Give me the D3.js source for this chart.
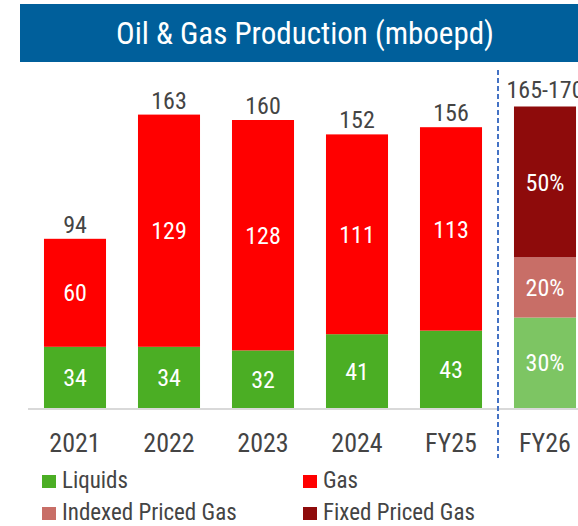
<!DOCTYPE html>
<html>
<head>
<meta charset="utf-8">
<script src="https://cdn.jsdelivr.net/npm/d3@7"></script>
<style>
  html, body { margin: 0; padding: 0; background: #fff; }
  svg { display: block; }
  text { font-family: "Liberation Sans Narrow", "Roboto Condensed", "DejaVu Sans Condensed", sans-serif; }
</style>
</head>
<body>
<svg id="chart" width="578" height="526"></svg>
<script>
// ---- data ----
const title = "Oil & Gas Production (mboepd)";
const categories = ["2021", "2022", "2023", "2024", "FY25", "FY26"];
const historicCats = ["2021", "2022", "2023", "2024", "FY25"];
const liquids = [34, 34, 32, 41, 43];
const gas = [60, 129, 128, 111, 113];
const totals = [94, 163, 160, 152, 156];
const fy26Range = [165, 170];
const fy26Labels = ["Liquids", "Indexed Priced Gas", "Fixed Priced Gas"];
const fy26Shares = [30, 20, 50];
const legendLabels = ["Liquids", "Gas", "Indexed Priced Gas", "Fixed Priced Gas"];

// ---- styling ----
const colors = {
  "Liquids": "#4bae24",
  "Gas": "#ff0000",
  "Indexed Priced Gas": "#c86e67",
  "Fixed Priced Gas": "#8e0b0b"
};
const fy26Colors = {
  "Liquids": "#7dc563",
  "Indexed Priced Gas": "#c86e67",
  "Fixed Priced Gas": "#8e0b0b"
};
const textGray = "#444444";

const svg = d3.select("#chart");

// title bar
svg.append("rect").attr("x", 20).attr("y", 4).attr("width", 558).attr("height", 58).attr("fill", "#005f9b");
svg.append("text").attr("x", 305).attr("y", 44).attr("text-anchor", "middle")
  .attr("fill", "#fff").attr("font-size", 31).text(title);

// scales
const x = d3.scaleBand().domain(categories).range([28, 592]).paddingInner(0.34).paddingOuter(0.17);
const y = d3.scaleLinear().domain([0, 170]).range([408, 102]);

// baseline axis
const axisG = svg.append("g").attr("transform", "translate(0,409)")
  .call(d3.axisBottom(x).tickSize(0).tickPadding(25));
axisG.select(".domain").attr("stroke", "#d9d9d9").attr("stroke-width", 2).attr("d", "M28,0H578");
axisG.selectAll("text").attr("font-size", 26).attr("fill", textGray)
  .attr("font-family", "'Liberation Sans Narrow', 'Roboto Condensed', 'DejaVu Sans Condensed', sans-serif");

// historic stacked bars
const hist = historicCats.map((c, i) => ({ cat: c, Liquids: liquids[i], Gas: gas[i], total: totals[i] }));
const stack = d3.stack().keys(["Liquids", "Gas"])(hist);
stack.forEach(layer => {
  const g = svg.append("g");
  g.selectAll("rect").data(layer).join("rect")
    .attr("x", d => x(d.data.cat))
    .attr("width", x.bandwidth())
    .attr("y", d => y(d[1]))
    .attr("height", d => y(d[0]) - y(d[1]))
    .attr("fill", colors[layer.key]);
  g.selectAll("text").data(layer).join("text")
    .attr("x", d => x(d.data.cat) + x.bandwidth() / 2)
    .attr("y", d => (y(d[0]) + y(d[1])) / 2)
    .attr("dy", "0.36em")
    .attr("text-anchor", "middle")
    .attr("fill", "#fff").attr("font-size", 24)
    .text(d => d.data[layer.key]);
});
svg.append("g").selectAll("text").data(hist).join("text")
  .attr("x", d => x(d.cat) + x.bandwidth() / 2)
  .attr("y", d => y(d.total) - 6)
  .attr("text-anchor", "middle").attr("fill", textGray).attr("font-size", 24)
  .text(d => d.total);

// FY26 guidance bar (shares of midpoint of range)
const fyMid = (fy26Range[0] + fy26Range[1]) / 2;
let acc = 0;
const fySegs = fy26Labels.map((k, i) => {
  const v0 = acc, v1 = acc + fyMid * fy26Shares[i] / 100;
  acc = v1;
  return { key: k, share: fy26Shares[i], v0, v1 };
});
const fg = svg.append("g");
fg.selectAll("rect").data(fySegs).join("rect")
  .attr("x", x("FY26")).attr("width", x.bandwidth())
  .attr("y", d => y(d.v1)).attr("height", d => y(d.v0) - y(d.v1))
  .attr("fill", d => fy26Colors[d.key]);
fg.selectAll("text").data(fySegs).join("text")
  .attr("x", x("FY26") + x.bandwidth() / 2)
  .attr("y", d => (y(d.v0) + y(d.v1)) / 2).attr("dy", "0.36em")
  .attr("text-anchor", "middle").attr("fill", "#fff").attr("font-size", 24)
  .text(d => d.share + "%");
svg.append("text").attr("x", x("FY26") + x.bandwidth() / 2).attr("y", y(fyMid) - 9)
  .attr("text-anchor", "middle").attr("fill", textGray).attr("font-size", 24)
  .text(fy26Range[0] + "-" + fy26Range[1]);

// divider
const divX = (x("FY25") + x.bandwidth() + x("FY26")) / 2;
svg.append("line").attr("x1", divX).attr("x2", divX).attr("y1", 70).attr("y2", 458)
  .attr("stroke", "#4472c4").attr("stroke-width", 2).attr("stroke-dasharray", "5,3");

// legend
const legPos = [[42, 475], [303, 475], [42, 507], [303, 507]];
const lg = svg.append("g");
legendLabels.forEach((k, i) => {
  const [lx, ly] = legPos[i];
  lg.append("rect").attr("x", lx).attr("y", ly).attr("width", 14).attr("height", 13).attr("fill", colors[k]);
  lg.append("text").attr("x", lx + 20).attr("y", ly + 13).attr("fill", textGray)
    .attr("font-size", 23).text(k);
});
</script>
</body>
</html>
